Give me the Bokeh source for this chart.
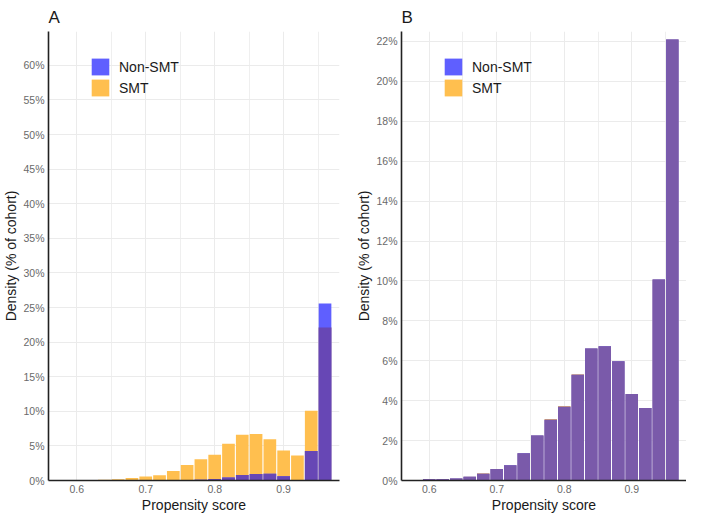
import numpy as np
from bokeh.plotting import figure
from bokeh.layouts import row
from bokeh.models import Range1d, FixedTicker, PrintfTickFormatter, Legend, LegendItem
from bokeh.embed import file_html
from bokeh.resources import INLINE

# ---- data ----
bin_start = [0.59, 0.61, 0.63, 0.65, 0.67, 0.69, 0.71, 0.73, 0.75, 0.77,
             0.79, 0.81, 0.83, 0.85, 0.87, 0.89, 0.91, 0.93, 0.95]
bin_width = 0.02

# Panel A (unmatched cohort), % of cohort
smt_a = [0.07, 0.07, 0.10, 0.19, 0.36, 0.58, 0.76, 1.36, 2.25, 3.08,
         3.73, 5.33, 6.62, 6.73, 5.97, 4.34, 3.63, 10.07, 22.10]
nonsmt_a = [0.00, 0.00, 0.00, 0.00, 0.00, 0.00, 0.01, 0.03, 0.05, 0.10,
            0.23, 0.42, 0.78, 0.95, 0.99, 0.60, 0.05, 4.25, 25.60]

# Panel B (matched cohort), % of cohort
smt_b = [0.07, 0.07, 0.10, 0.19, 0.36, 0.58, 0.76, 1.36, 2.25, 3.08,
         3.73, 5.33, 6.62, 6.73, 5.97, 4.34, 3.63, 10.07, 22.10]
nonsmt_b = [0.07, 0.07, 0.10, 0.19, 0.34, 0.58, 0.76, 1.36, 2.25, 3.05,
            3.70, 5.30, 6.62, 6.73, 5.97, 4.34, 3.63, 10.07, 22.10]

x_major = [0.6, 0.7, 0.8, 0.9]
x_minor = [0.65, 0.75, 0.85, 0.95]
y_ticks_a = [0, 5, 10, 15, 20, 25, 30, 35, 40, 45, 50, 55, 60]
y_ticks_b = [0, 2, 4, 6, 8, 10, 12, 14, 16, 18, 20, 22]

X_LO, X_HI = 0.559, 0.981
BLUE = "#5F5FFF"
YELLOW = "#FFBF4F"
FONT = "Liberation Sans"
H = 515


def panel(title, smt, non, ymax, yticks, purple, width, right_border):
    p = figure(width=width, height=H, x_range=Range1d(X_LO, X_HI),
               y_range=Range1d(0, ymax), output_backend="svg",
               toolbar_location=None, min_border_left=40,
               min_border_right=right_border, min_border_top=23,
               min_border_bottom=0)
    p.outline_line_color = None
    p.background_fill_color = "white"

    centers = np.array(bin_start) + bin_width / 2
    smt = np.array(smt)
    non = np.array(non)
    w = bin_width * 0.92
    r_y = p.vbar(x=centers, top=smt, bottom=0, width=w, fill_color=YELLOW,
                 line_color=None)
    r_b = p.vbar(x=centers, top=non, bottom=0, width=w, fill_color=BLUE,
                 line_color=None)
    p.vbar(x=centers, top=np.minimum(smt, non), bottom=0, width=w,
           fill_color=purple, line_color=None)

    legend = Legend(items=[LegendItem(label="Non-SMT", renderers=[r_b]),
                           LegendItem(label="SMT", renderers=[r_y])],
                    location=(41, H - 23 - 41 - 27 - 42))
    legend.padding = 0
    legend.margin = 0
    legend.spacing = 0
    legend.glyph_width = 22
    legend.glyph_height = 21
    legend.label_height = 21
    legend.label_standoff = 8
    legend.label_text_font = FONT
    legend.label_text_font_size = "14px"
    legend.label_text_color = "#1a1a1a"
    legend.background_fill_alpha = 0
    legend.border_line_color = None
    p.add_layout(legend)

    p.title.text = title
    p.title.text_font = FONT
    p.title.text_font_size = "17px"
    p.title.text_font_style = "normal"
    p.title.text_color = "#1a1a1a"
    p.title.align = "left"
    p.title.standoff = 10

    for ax in (p.xaxis[0], p.yaxis[0]):
        ax.axis_line_color = "#222222"
        ax.axis_line_width = 1.6
        ax.major_tick_out = 0
        ax.major_tick_in = 0
        ax.minor_tick_out = 0
        ax.minor_tick_in = 0
        ax.major_label_text_font = FONT
        ax.major_label_text_font_size = "10.5px"
        ax.major_label_text_color = "#6a6a6a"
        ax.axis_label_text_font = FONT
        ax.axis_label_text_font_size = "14px"
        ax.axis_label_text_font_style = "normal"
        ax.axis_label_text_color = "#1a1a1a"
        ax.axis_label_standoff = 1
        ax.major_label_standoff = 4

    p.xaxis.ticker = FixedTicker(ticks=x_major, minor_ticks=x_minor)
    p.xaxis.axis_label = "Propensity score"
    p.yaxis.ticker = FixedTicker(ticks=yticks)
    p.yaxis.formatter = PrintfTickFormatter(format="%d%%")
    p.yaxis.axis_label = "Density (% of cohort)"

    p.xgrid.grid_line_color = "#EBEBEB"
    p.xgrid.minor_grid_line_color = "#EFEFEF"
    p.ygrid.grid_line_color = "#EBEBEB"
    return p


pa = panel("A", smt_a, nonsmt_a, 64.9, y_ticks_a, "#6747B5", 353, 14)
pb = panel("B", smt_b, nonsmt_b, 22.5, y_ticks_b, "#7A5AAA", 333, 0)

layout = row(pa, pb)
open("out.html", "w").write(file_html(layout, INLINE))
